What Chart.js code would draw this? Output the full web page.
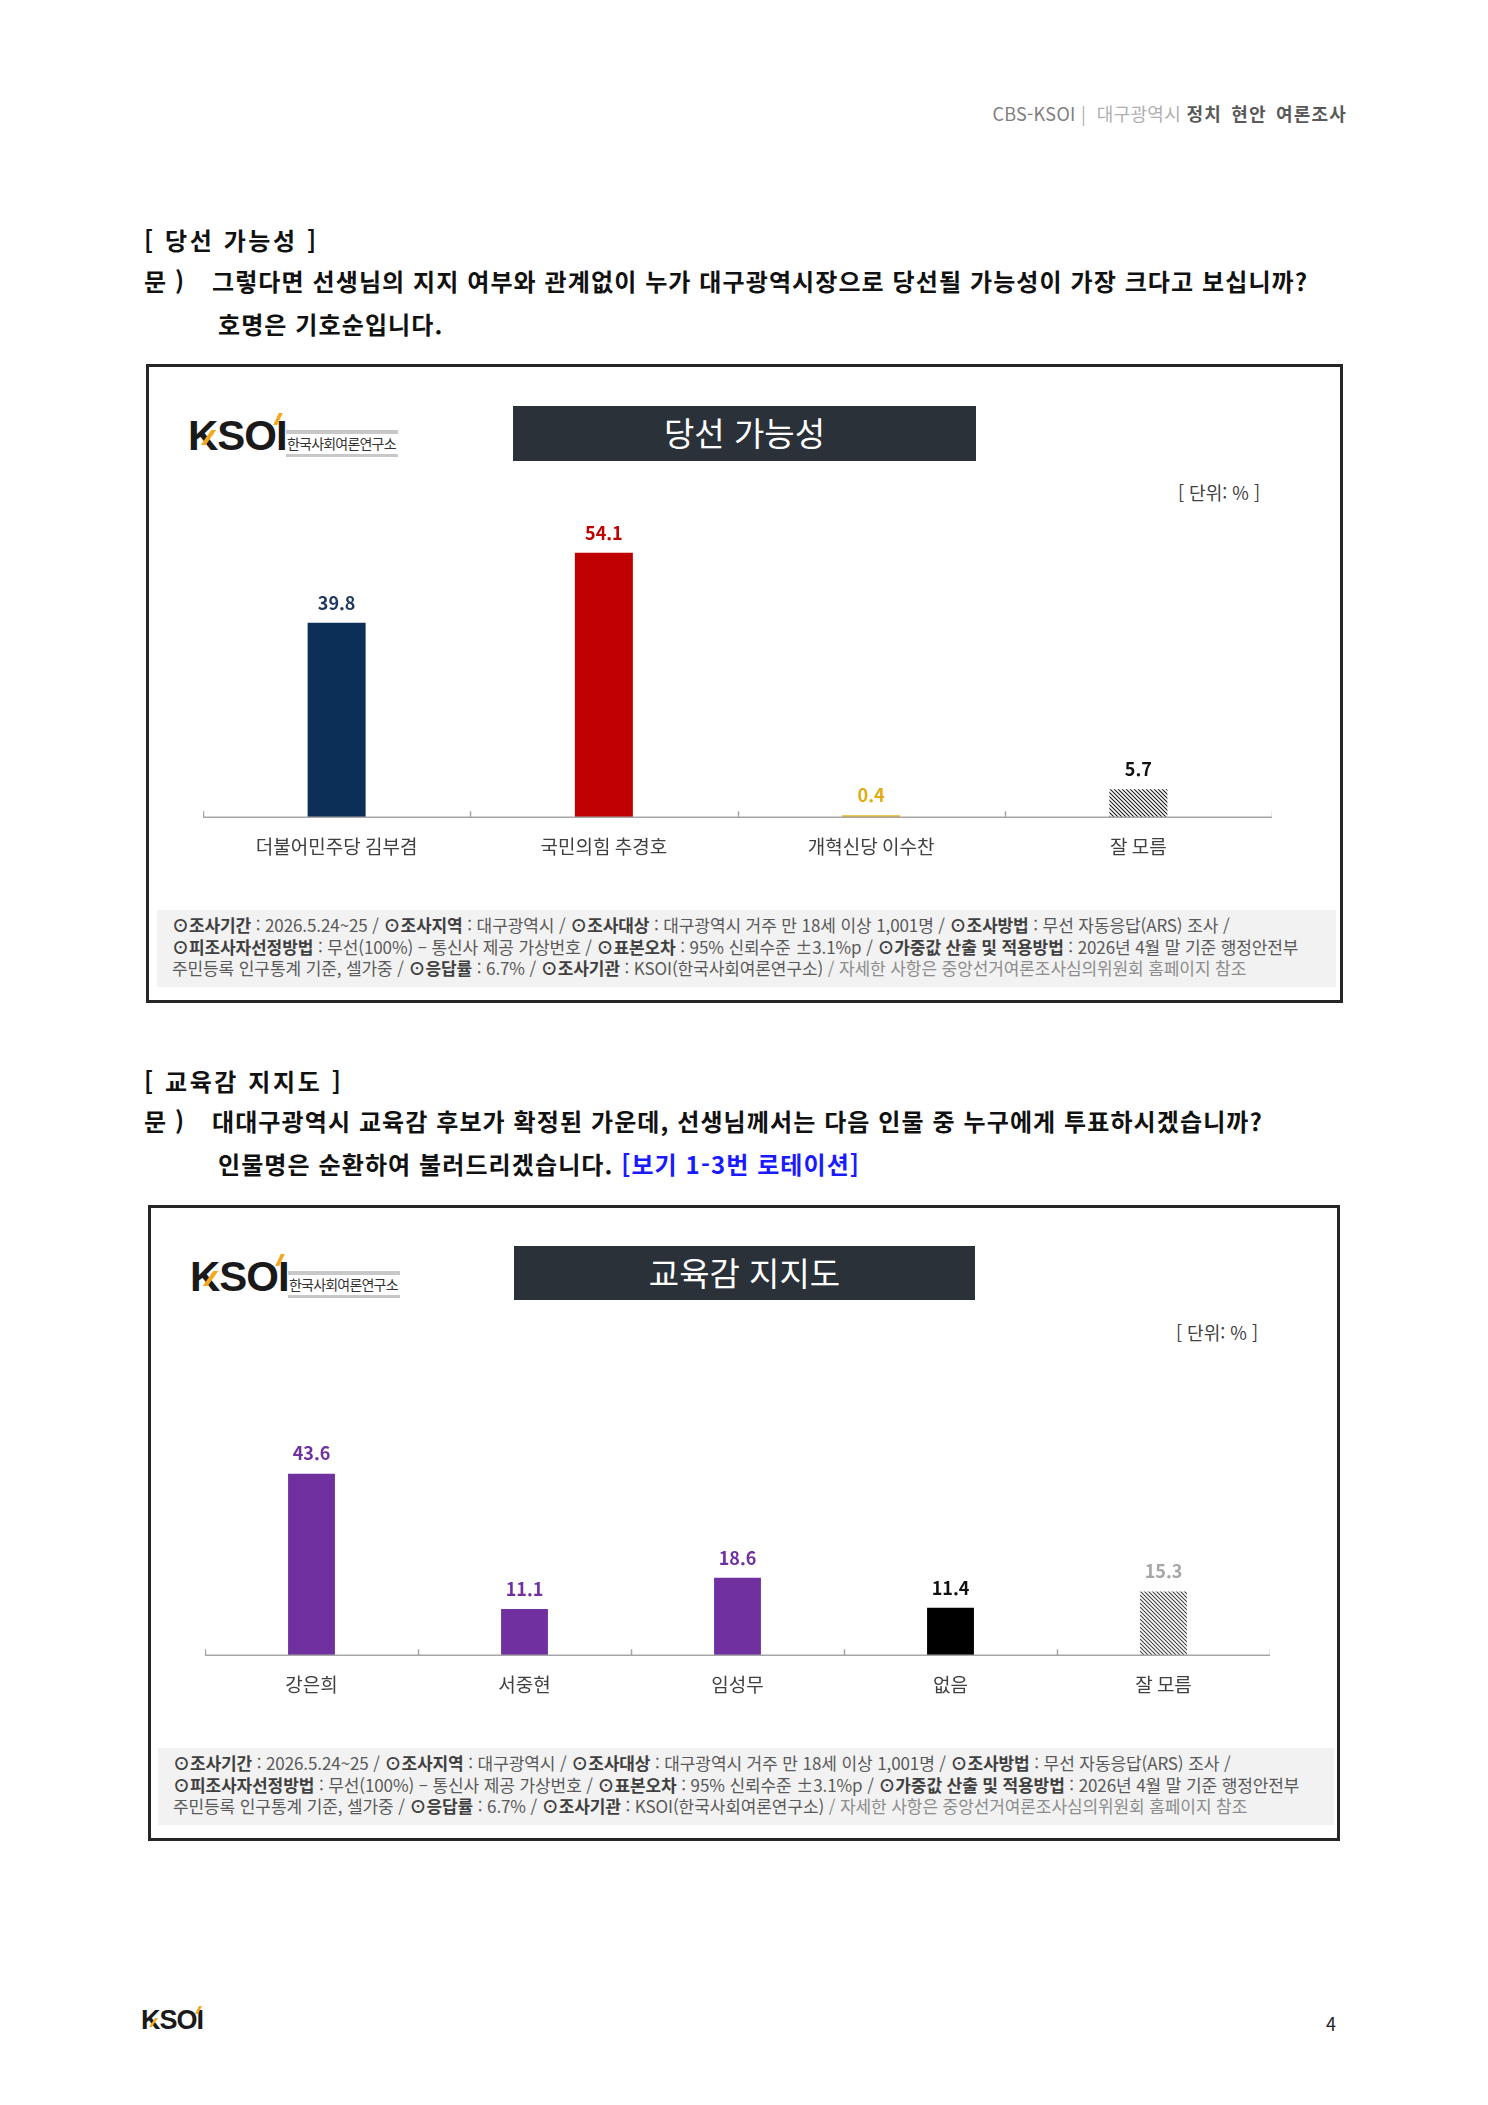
<!DOCTYPE html>
<html lang="ko">
<head>
    <meta charset="UTF-8">
    <title>대구광역시 정치 현안 여론조사</title>
    <script src="https://cdn.jsdelivr.net/npm/chart.js"></script>
    <style>
        body {
            margin: 0;
            padding: 0;
            background: #fff;
            font-family: "Noto Sans CJK KR", "Noto Sans", sans-serif;
        }
        .page {
            position: relative;
            width: 1488px;
            height: 2105px;
            overflow: hidden;
        }
        .abs { position: absolute; white-space: nowrap; }
        .header {
            right: 141px;
            top: 100px;
            font-size: 18px;
            color: #7f7f7f;
            letter-spacing: 0.3px;
        }
        .header .light { color: #b0b0b0; }
        .header .strong { color: #595959; font-weight: 700; letter-spacing: 1.2px; word-spacing: 3px; }
        .sec-title {
            font-size: 24px;
            font-weight: 700;
            color: #111;
            letter-spacing: 2.6px;
        }
        .question {
            font-size: 24px;
            font-weight: 700;
            color: #111;
            letter-spacing: 1.1px;
        }
        .blue { color: #1a1aff; }
        .box {
            position: absolute;
            box-sizing: border-box;
            border: 3px solid #262626;
            background: #fff;
        }
        .title-box {
            position: absolute;
            background: #2b3139;
            color: #fff;
            font-size: 33px;
            text-align: center;
        }
        .unit {
            font-size: 18px;
            color: #404040;
        }
        .logo { position: absolute; width: 210px; height: 50px; }
        .logo .ksoi {
            position: absolute;
            left: 0;
            top: 2px;
            font-family: "Liberation Sans", Arial, sans-serif;
            font-weight: 700;
            font-size: 42px;
            letter-spacing: -1px;
            color: #1a1a1a;
        }
        .logo .acc1 {
            position: absolute;
            left: 18px; top: 20px;
            width: 5px; height: 15px;
            background: #f4a81d;
            transform: skewX(-35deg);
        }
        .logo .acc2 {
            position: absolute;
            left: 88px; top: 3px;
            width: 4px; height: 12px;
            background: #f4a81d;
            transform: skewX(-25deg);
        }
        .logo .name {
            position: absolute;
            left: 98px; top: 20px;
            font-size: 14px;
            color: #333;
            letter-spacing: -0.8px;
            border-top: 4px solid #c8c8c8;
            border-bottom: 3px solid #c8c8c8;
            line-height: 17px;
            padding: 1px 2px 2px 1px;
        }
        .note {
            position: absolute;
            background: #f2f2f2;
            box-sizing: border-box;
            padding: 4px 0 0 15px;
            font-size: 17px;
            line-height: 21.5px;
            color: #595959;
            letter-spacing: -0.1px;
        }
        .note b { color: #404040; }
        .note .grey { color: #8c8c8c; }
        .chart-wrap { position: absolute; }
        .footer-logo {
            position: absolute;
            left: 141px; top: 2005px;
            width: 70px; height: 36px;
        }
        .footer-logo .t {
            position: absolute; left: 0; top: 0;
            font-family: "Liberation Sans", Arial, sans-serif;
            font-weight: 700;
            font-size: 27px;
            letter-spacing: -1px;
            color: #1a1a1a;
        }
        .footer-logo .a1 {
            position: absolute; left: 11px; top: 13px;
            width: 3px; height: 9px; background: #f4a81d; transform: skewX(-35deg);
        }
        .footer-logo .a2 {
            position: absolute; left: 56px; top: 1px;
            width: 3px; height: 8px; background: #f4a81d; transform: skewX(-25deg);
        }
        .page-no { left: 1326px; top: 2010px; font-size: 18px; color: #222; }
    </style>
</head>
<body>
<div class="page">
    <div class="abs header">CBS-KSOI <span class="light">|&nbsp; 대구광역시</span> <span class="strong">정치 현안 여론조사</span></div>

    <!-- section 1 -->
    <div class="abs sec-title" style="left:144px; top:222px;">[ 당선 가능성 ]</div>
    <div class="abs question" style="left:144px; top:263px;">문 )</div>
    <div class="abs question" style="left:212px; top:263px;">그렇다면 선생님의 지지 여부와 관계없이 누가 대구광역시장으로 당선될 가능성이 가장 크다고 보십니까?</div>
    <div class="abs question" style="left:218px; top:306px;">호명은 기호순입니다.</div>

    <div class="box" style="left:146px; top:364px; width:1197px; height:639px;"></div>
    <div class="logo" style="left:188px; top:410px;">
        <div class="ksoi">KSOI</div><div class="acc1"></div><div class="acc2"></div>
        <div class="name">한국사회여론연구소</div>
    </div>
    <div class="title-box" style="left:513px; top:406px; width:463px; height:55px; line-height:53px;">당선 가능성</div>
    <div class="abs unit" style="right:228px; top:479px;">[ 단위: % ]</div>
    <div class="chart-wrap" style="left:203px; top:470px; width:1069px; height:406px;">
        <canvas id="winChart"></canvas>
    </div>
    <div class="note" style="left:157px; top:910px; width:1179px; height:77px;">
        <b>⊙조사기간</b> : 2026.5.24~25 / <b>⊙조사지역</b> : 대구광역시 / <b>⊙조사대상</b> : 대구광역시 거주 만 18세 이상 1,001명 / <b>⊙조사방법</b> : 무선 자동응답(ARS) 조사 /<br>
        <b>⊙피조사자선정방법</b> : 무선(100%) – 통신사 제공 가상번호 / <b>⊙표본오차</b> : 95% 신뢰수준 ±3.1%p / <b>⊙가중값 산출 및 적용방법</b> : 2026년 4월 말 기준 행정안전부<br>
        주민등록 인구통계 기준, 셀가중 / <b>⊙응답률</b> : 6.7% / <b>⊙조사기관</b> : KSOI(한국사회여론연구소) <span class="grey">/ 자세한 사항은 중앙선거여론조사심의위원회 홈페이지 참조</span>
    </div>

    <!-- section 2 -->
    <div class="abs sec-title" style="left:144px; top:1063px;">[ 교육감 지지도 ]</div>
    <div class="abs question" style="left:144px; top:1103px;">문 )</div>
    <div class="abs question" style="left:212px; top:1103px;">대대구광역시 교육감 후보가 확정된 가운데, 선생님께서는 다음 인물 중 누구에게 투표하시겠습니까?</div>
    <div class="abs question" style="left:218px; top:1146px;">인물명은 순환하여 불러드리겠습니다. <span class="blue">[보기 1-3번 로테이션]</span></div>

    <div class="box" style="left:148px; top:1205px; width:1192px; height:636px;"></div>
    <div class="logo" style="left:190px; top:1251px;">
        <div class="ksoi">KSOI</div><div class="acc1"></div><div class="acc2"></div>
        <div class="name">한국사회여론연구소</div>
    </div>
    <div class="title-box" style="left:514px; top:1246px; width:461px; height:54px; line-height:52px;">교육감 지지도</div>
    <div class="abs unit" style="right:230px; top:1319px;">[ 단위: % ]</div>
    <div class="chart-wrap" style="left:205px; top:1400px; width:1065px; height:314px;">
        <canvas id="eduChart"></canvas>
    </div>
    <div class="note" style="left:158px; top:1748px; width:1176px; height:77px;">
        <b>⊙조사기간</b> : 2026.5.24~25 / <b>⊙조사지역</b> : 대구광역시 / <b>⊙조사대상</b> : 대구광역시 거주 만 18세 이상 1,001명 / <b>⊙조사방법</b> : 무선 자동응답(ARS) 조사 /<br>
        <b>⊙피조사자선정방법</b> : 무선(100%) – 통신사 제공 가상번호 / <b>⊙표본오차</b> : 95% 신뢰수준 ±3.1%p / <b>⊙가중값 산출 및 적용방법</b> : 2026년 4월 말 기준 행정안전부<br>
        주민등록 인구통계 기준, 셀가중 / <b>⊙응답률</b> : 6.7% / <b>⊙조사기관</b> : KSOI(한국사회여론연구소) <span class="grey">/ 자세한 사항은 중앙선거여론조사심의위원회 홈페이지 참조</span>
    </div>

    <div class="footer-logo"><div class="t">KSOI</div><div class="a1"></div><div class="a2"></div></div>
    <div class="abs page-no">4</div>
</div>

<script>
    // 당선 가능성
    const winCategories = ['더불어민주당 김부겸', '국민의힘 추경호', '개혁신당 이수찬', '잘 모름'];
    const winValues = [39.8, 54.1, 0.4, 5.7];

    // 교육감 지지도
    const eduCategories = ['강은희', '서중현', '임성무', '없음', '잘 모름'];
    const eduValues = [43.6, 11.1, 18.6, 11.4, 15.3];

    function hatch(color) {
        const c = document.createElement('canvas');
        c.width = 4; c.height = 4;
        const g = c.getContext('2d');
        g.strokeStyle = color;
        g.lineWidth = 1.1;
        g.beginPath();
        g.moveTo(-1, -1); g.lineTo(5, 5);
        g.moveTo(-1, 3); g.lineTo(1, 5);
        g.moveTo(3, -1); g.lineTo(5, 1);
        g.stroke();
        return g.createPattern(c, 'repeat');
    }

    // value labels over the bars
    const valueLabels = {
        id: 'valueLabels',
        afterDatasetsDraw(chart, args, opts) {
            const ctx = chart.ctx;
            const meta = chart.getDatasetMeta(0);
            const data = chart.data.datasets[0].data;
            ctx.save();
            ctx.font = 'bold 18px "Noto Sans CJK KR", sans-serif';
            ctx.textAlign = 'center';
            ctx.textBaseline = 'bottom';
            meta.data.forEach((bar, i) => {
                ctx.fillStyle = opts.colors[i];
                ctx.fillText(data[i].toFixed(1), bar.x, bar.y - 11);
            });
            ctx.restore();
        }
    };

    // baseline with small upward ticks between categories
    const baseAxis = {
        id: 'baseAxis',
        afterDatasetsDraw(chart) {
            const ctx = chart.ctx;
            const x = chart.scales.x;
            const y = chart.chartArea.bottom;
            const n = chart.data.labels.length;
            const step = (x.right - x.left) / n;
            ctx.save();
            ctx.strokeStyle = '#a6a6a6';
            ctx.lineWidth = 1.5;
            ctx.beginPath();
            ctx.moveTo(x.left, y);
            ctx.lineTo(x.right, y);
            for (let i = 0; i <= n; i++) {
                const px = Math.round(x.left + step * i) + 0.5;
                ctx.moveTo(px, y);
                ctx.lineTo(px, y - 6);
            }
            ctx.stroke();
            ctx.restore();
        }
    };

    function makeChart(id, labels, values, colors, labelColors, max, padTop, barPct) {
        new Chart(document.getElementById(id), {
            type: 'bar',
            data: {
                labels: labels,
                datasets: [{
                    data: values,
                    backgroundColor: colors,
                    borderWidth: 0,
                    barPercentage: barPct,
                    categoryPercentage: 1
                }]
            },
            options: {
                responsive: true,
                maintainAspectRatio: false,
                animation: false,
                layout: { padding: { top: padTop, left: 0, right: 0, bottom: 0 } },
                scales: {
                    x: {
                        grid: { display: false, drawTicks: false },
                        border: { display: false },
                        ticks: {
                            color: '#404040',
                            padding: 18,
                            font: { size: 19, family: '"Noto Sans CJK KR", sans-serif' }
                        }
                    },
                    y: { display: false, min: 0, max: max }
                },
                plugins: {
                    legend: { display: false },
                    tooltip: { enabled: false },
                    valueLabels: { colors: labelColors }
                }
            },
            plugins: [valueLabels, baseAxis]
        });
    }

    makeChart('winChart', winCategories, winValues,
        ['#0b2f57', '#c00000', '#e8b41c', hatch('#1a1a1a')],
        ['#1f3a60', '#c00000', '#e2ab12', '#111111'],
        60, 54, 0.217);

    makeChart('eduChart', eduCategories, eduValues,
        ['#7030a0', '#7030a0', '#7030a0', '#000000', hatch('#444444')],
        ['#7030a0', '#7030a0', '#7030a0', '#111111', '#a6a6a6'],
        50, 47, 0.22);
</script>
</body>
</html>
